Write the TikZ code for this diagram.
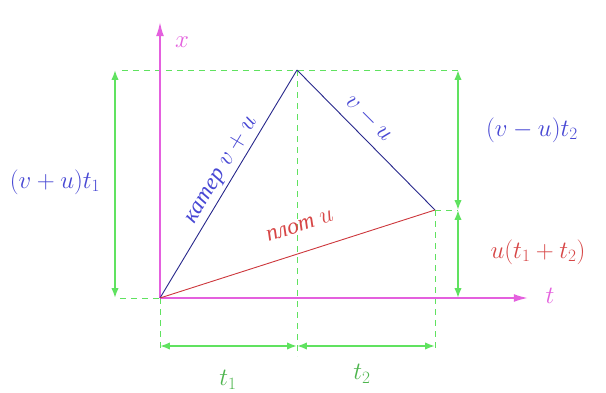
\documentclass[tikz,border=0pt]{standalone}
\usepackage{fontspec}
\setmainfont{Liberation Serif}
\usetikzlibrary{arrows.meta,positioning}
\definecolor{axismag}{RGB}{228,96,222}
\definecolor{dimgreen}{RGB}{96,226,96}
\definecolor{labelblue}{RGB}{72,72,212}
\definecolor{boatblue}{RGB}{40,40,140}
\definecolor{raftred}{RGB}{205,55,60}
\definecolor{labelred}{RGB}{215,70,70}
\tikzset{
  axisline/.style={draw=axismag,line width=1.8pt,-{Latex[length=5mm,width=2.8mm]}},
  dimarrow/.style={draw=dimgreen,line width=1.6pt,
    {Latex[length=3.5mm,width=2.6mm]}-{Latex[length=3.5mm,width=2.6mm]}},
  guide/.style={draw=dimgreen,line width=0.9pt,dash pattern=on 6pt off 5pt},
  boatline/.style={draw=boatblue,line width=0.9pt},
  raftline/.style={draw=raftred,line width=0.9pt},
  bluelabel/.style={text=labelblue,font=\fontsize{26}{30}\selectfont},
  redlabel/.style={text=labelred,font=\fontsize{26}{30}\selectfont},
  greenlabel/.style={text=dimgreen!80!black,font=\fontsize{26}{30}\selectfont},
  slantlabel/.style={font=\fontsize{23}{27}\selectfont,inner sep=1pt},
  axislabel/.style={text=axismag,font=\fontsize{26}{30}\selectfont}
}

\begin{document}
\begin{tikzpicture}[x=1pt,y=1pt]
  \useasboundingbox[fill=white] (-160,-94) rectangle (446,298);

  % key points
  \coordinate (O) at (0,0);
  \coordinate (P) at (137,228);
  \coordinate (Q) at (275,88);
  \coordinate (xtop) at (0,276);
  \coordinate (tend) at (368,0);

  % guides
  \coordinate (gl) at (-38,228);
  \coordinate (gr) at (300,228);
  \coordinate (gb) at (-40,0);
  \coordinate (pbot) at (137,-58);
  \coordinate (qbot) at (275,-52);
  \coordinate (obot) at (0,-52);
  \coordinate (qr) at (298,88);
  \draw[guide] (gl) -- (gr);
  \draw[guide] (gb) -- (O);
  \draw[guide] (P) -- (pbot);
  \draw[guide] (Q) -- (qbot);
  \draw[guide] (O) -- (obot);
  \draw[guide] (Q) -- (qr);

  % dimension arrows
  \coordinate (la) at (-45,0);
  \coordinate (lb) at (-45,228);
  \coordinate (ra) at (298,228);
  \coordinate (rb) at (298,88);
  \coordinate (rc) at (298,0);
  \coordinate (ba) at (0,-48);
  \coordinate (bb) at (137,-48);
  \coordinate (bc) at (275,-48);
  \draw[dimarrow] (la) -- (lb);
  \draw[dimarrow] (ra) -- (rb);
  \draw[dimarrow] (rb) -- (rc);
  \draw[dimarrow] (ba) -- (bb);
  \draw[dimarrow] (bb) -- (bc);

  % axes
  \draw[axisline] (O) -- (xtop);
  \draw[axisline] (O) -- (tend);
  \node[axislabel] (xlab) at (22,256) {$x$};
  \node[axislabel] (tlab) at (390,2) {$t$};

  % motion lines
  \draw[boatline] (O) -- (P);
  \draw[boatline] (P) -- (Q);
  \draw[raftline] (O) -- (Q);

  % labels
  \node[slantlabel,text=labelblue,rotate=59] (boat) at (62,128) {\textit{катер} $v+u$};
  \node[slantlabel,text=labelblue,rotate=-45] (back) at (209,180) {$v-u$};
  \node[slantlabel,text=labelred,rotate=18] (raft) at (140,72) {\textit{плот} $u$};
  \node[bluelabel] (up) at (-105,116) {$(v+u)t_1$};
  \node[bluelabel] (down) at (372,168) {$(v-u)t_2$};
  \node[redlabel] (drift) at (378,46) {$u(t_1+t_2)$};
  \node[greenlabel] (tone) at (68,-82) {$t_1$};
  \node[greenlabel] (ttwo) at (202,-76) {$t_2$};
\end{tikzpicture}
\end{document}
